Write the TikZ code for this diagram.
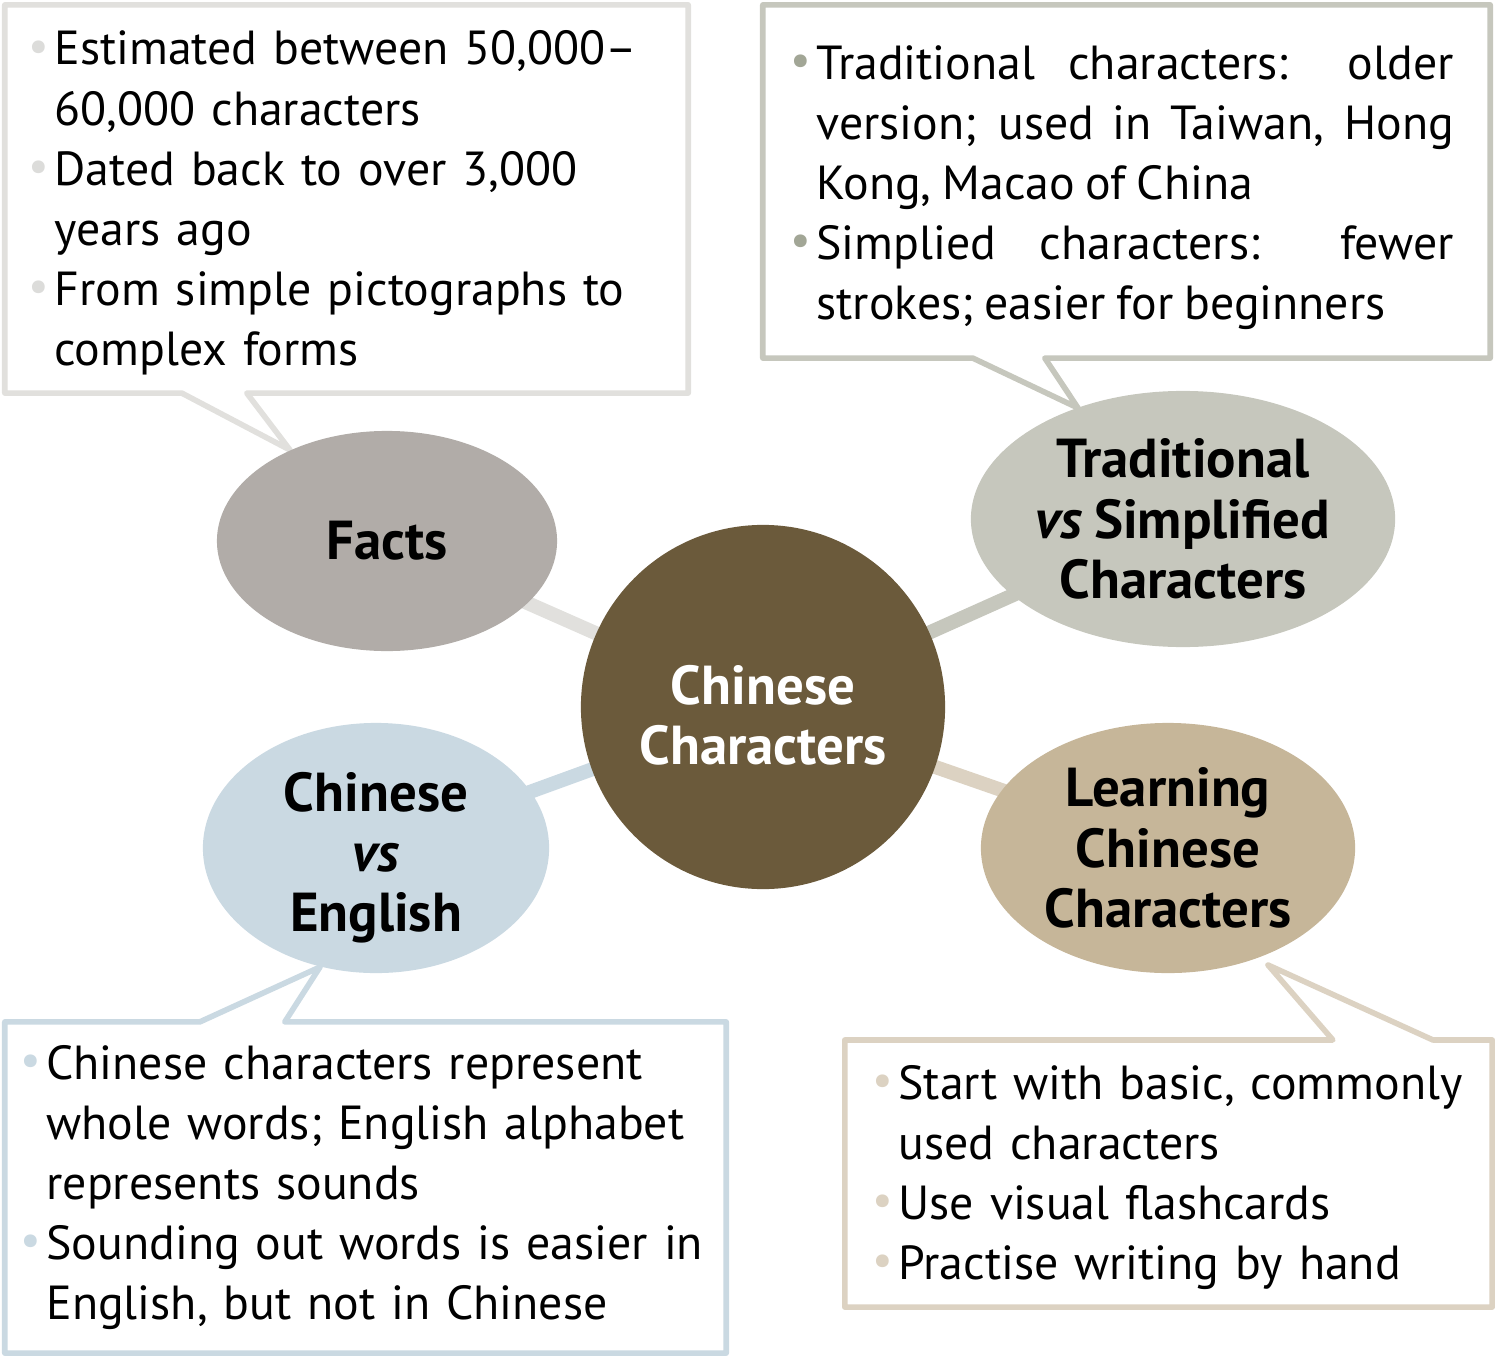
\documentclass[tikz,border=0pt]{standalone}
\usepackage{fontspec}
\setmainfont{PT Sans}[WordSpace=0.85]
\usetikzlibrary{shapes.geometric, calc, backgrounds}

\hyphenpenalty=10000
\exhyphenpenalty=10000

% colours
\definecolor{hubfill}{HTML}{6B5A3B}
\definecolor{factsfill}{HTML}{B1ACA8}
\definecolor{factsedge}{HTML}{E1E0DD}
\definecolor{factsdot}{HTML}{DCDCDA}
\definecolor{tradfill}{HTML}{C6C7BD}
\definecolor{tradedge}{HTML}{C6C7BD}
\definecolor{traddot}{HTML}{A2A696}
\definecolor{cvefill}{HTML}{CAD9E2}
\definecolor{cveedge}{HTML}{CAD9E2}
\definecolor{learnfill}{HTML}{C6B699}
\definecolor{learnedge}{HTML}{DCD2C2}

\newlength{\dotgap}\setlength{\dotgap}{0.26cm}
\newcommand{\boxfont}{\fontsize{13.6}{17.1}\selectfont}
\newcommand{\topicfont}{\fontsize{15.6}{17.1}\selectfont\bfseries}
\newcommand{\bpoint}[2]{\hangindent=\dotgap\hangafter=1\noindent\makebox[\dotgap][l]{\textcolor{#1}{\raisebox{0.08em}{\fontsize{13}{13}\selectfont\textbullet}}}#2\par}

\tikzset{
  topic/.style={ellipse, inner sep=0pt, align=center, font=\topicfont},
  infobox/.style={rectangle, inner sep=0pt, outer sep=0pt},
  infotext/.style={anchor=west, inner sep=0pt, font=\boxfont, align=left},
  outline/.style={line width=1.6pt, line join=round, fill=white},
  link/.style={line width=4pt},
}

\begin{document}
\begin{tikzpicture}[x=0.01cm, y=-0.01cm]
\useasboundingbox (0,0) rectangle (1495,1358);

% centre and topics
\node[circle, fill=hubfill, minimum size=3.64cm, inner sep=0pt, align=center, font=\topicfont, text=white] (hub) at (763,707) {\rule{0pt}{0.56cm}Chinese\\Characters};
\node[topic, fill=factsfill, minimum width=3.40cm, minimum height=2.20cm] (facts) at (387,541) {Facts};
\node[topic, fill=tradfill, minimum width=4.24cm, minimum height=2.56cm] (trad) at (1183,519) {Traditional\\\textit{vs} Simplified\\Characters};
\node[topic, fill=cvefill, minimum width=3.46cm, minimum height=2.50cm] (cve) at (376,848) {};
\node[topic] (cvelabel) at ($(cve)+(0,10)$) {Chinese\\\textit{vs}\\English};
\node[topic, fill=learnfill, minimum width=3.74cm, minimum height=2.50cm] (learn) at (1168,848) {Learning\\Chinese\\Characters};

% callout boxes
\node[infobox, minimum width=6.83cm, minimum height=3.88cm] (factsbox) at (346.5,199) {};
\node[infobox, minimum width=7.27cm, minimum height=3.53cm] (tradbox) at (1126.5,181.5) {};
\node[infobox, minimum width=7.21cm, minimum height=3.31cm] (cvebox) at (365.5,1187.5) {};
\node[infobox, minimum width=6.47cm, minimum height=2.67cm] (learnbox) at (1168.5,1173.5) {};

% box texts
\node[infotext, text width=6.57cm] (factstext) at ($(factsbox.west)+(23,4)$) {%
\bpoint{factsdot}{Estimated between 50,000--\newline 60,000 characters}%
\bpoint{factsdot}{Dated back to over 3,000\newline years ago}%
\bpoint{factsdot}{From simple pictographs to\newline complex forms}};
\node[infotext, text width=6.63cm, align=justify] (tradtext) at ($(tradbox.west)+(27,6)$) {%
\bpoint{traddot}{Traditional characters: older\linebreak version; used in Taiwan, Hong\linebreak Kong, Macao of China}%
\bpoint{traddot}{Simplied characters: fewer\linebreak strokes; easier for beginners}};
\node[infotext, text width=7.02cm] (cvetext) at ($(cvebox.west)+(15,0)$) {%
\bpoint{cveedge}{Chinese characters represent\newline whole words; English alphabet\newline represents sounds}%
\bpoint{cveedge}{Sounding out words is easier in\newline English, but not in Chinese}};
\node[infotext, text width=6.13cm] (learntext) at ($(learnbox.west)+(27,4)$) {%
\bpoint{learnedge}{Start with basic, commonly\newline used characters}%
\bpoint{learnedge}{Use visual flashcards}%
\bpoint{learnedge}{Practise writing by hand}};

% pointer tips
\coordinate (factstip) at (290,450);
\coordinate (tradtip) at (1078,408);
\coordinate (cvetip) at (320,967);
\coordinate (learntip) at (1268,965);

\begin{scope}[on background layer]
  \draw[link, factsedge] (hub.center) -- (facts.center);
  \draw[link, tradedge] (hub.center) -- (trad.center);
  \draw[link, cveedge] (hub.center) -- (cve.center);
  \draw[link, learnedge] (hub.center) -- (learn.center);
  % outlines with pointers
  \draw[outline, draw=factsedge] (factsbox.north west) -- (factsbox.north east) -- (factsbox.south east)
    -- ($(factsbox.south west)+(242,0)$) -- (factstip) -- ($(factsbox.south west)+(177,0)$) -- (factsbox.south west) -- cycle;
  \draw[outline, draw=tradedge] (tradbox.north west) -- (tradbox.north east) -- (tradbox.south east)
    -- ($(tradbox.south west)+(282,0)$) -- (tradtip) -- ($(tradbox.south west)+(210,0)$) -- (tradbox.south west) -- cycle;
  \draw[outline, draw=cveedge] (cvebox.north west) -- ($(cvebox.north west)+(195,0)$) -- (cvetip)
    -- ($(cvebox.north west)+(280,0)$) -- (cvebox.north east) -- (cvebox.south east) -- (cvebox.south west) -- cycle;
  \draw[outline, draw=learnedge] (learnbox.north west) -- ($(learnbox.north west)+(488,0)$) -- (learntip)
    -- ($(learnbox.north west)+(588,0)$) -- (learnbox.north east) -- (learnbox.south east) -- (learnbox.south west) -- cycle;
\end{scope}
\end{tikzpicture}
\end{document}
